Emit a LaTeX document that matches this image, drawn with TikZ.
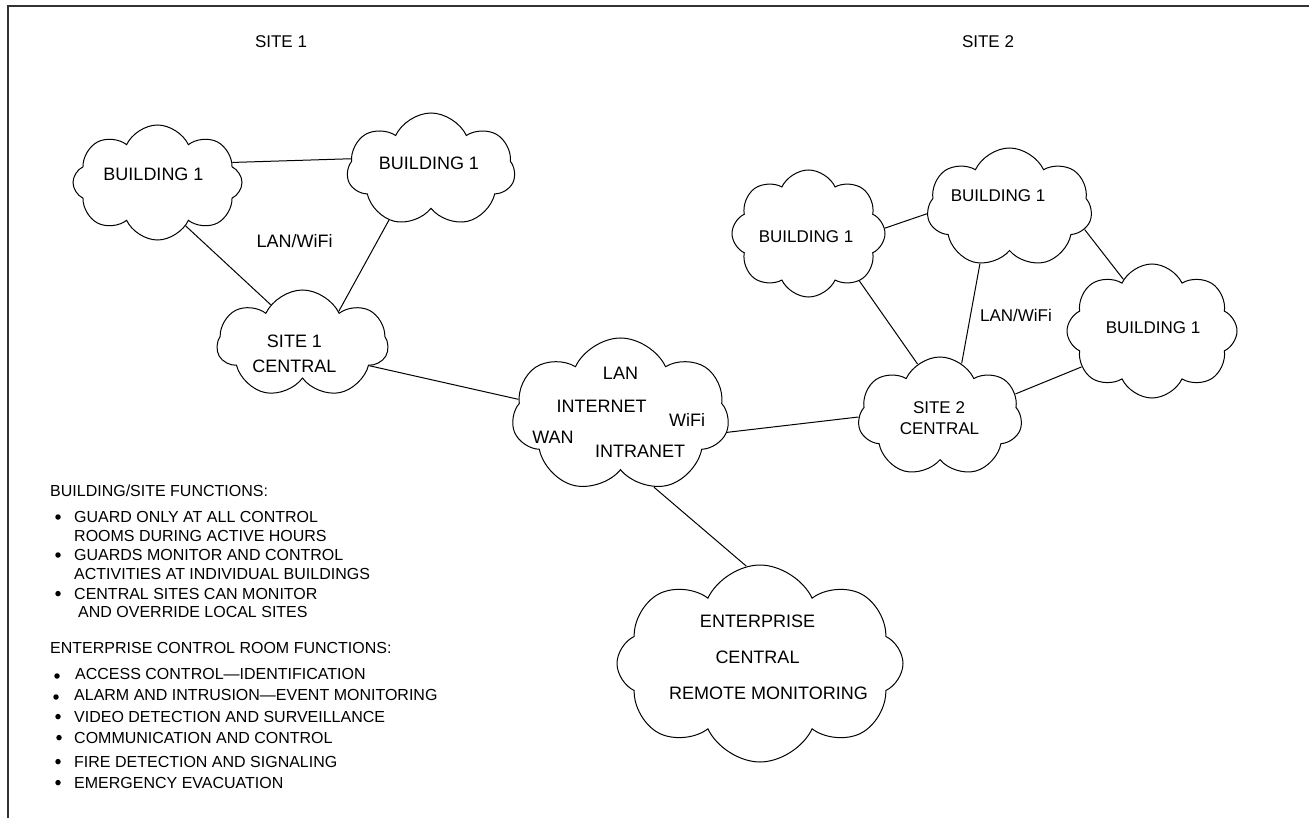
\documentclass[tikz,border=0pt]{standalone}
\usepackage{fontspec}
\setmainfont{Liberation Sans}
\usetikzlibrary{shapes.symbols}
\begin{document}
\begin{tikzpicture}[x=1pt,y=-1pt,
  cloudnode/.style={cloud, draw=black, line width=1pt, cloud ignores aspect, inner sep=0pt, cloud puff arc=130},
  link/.style={draw=black, line width=1pt},
  bigtext/.style={anchor=base, inner sep=0pt, font=\fontsize{18}{22}\selectfont},
  midtext/.style={anchor=base, inner sep=0pt, font=\fontsize{17}{20}\selectfont},
  listtext/.style={anchor=base west, inner sep=0pt, font=\fontsize{16}{19}\selectfont},
  dot/.style={circle, fill=black, inner sep=0pt, minimum size=5.5pt},
]
\useasboundingbox (0,0) rectangle (1309,818);
% page frame (top and left rules)
\draw[line width=2pt, draw=black!80] (8,818) -- (8,6) -- (1309,6);

% site titles
\node[midtext] (site1title) at (281,48) {SITE 1};
\node[midtext] (site2title) at (988,48) {SITE 2};

% ---- site 1 clouds ----
\node[cloudnode, cloud puffs=8, minimum width=169pt, minimum height=115pt] (s1b1) at (157.5,182.5) {};
\node[cloudnode, cloud puffs=7, minimum width=168pt, minimum height=114pt] (s1b2) at (431,170) {};
\node[cloudnode, cloud puffs=7, minimum width=171pt, minimum height=108pt] (s1c) at (302.5,344) {};

\node[bigtext] (t-s1b1) at (153.5,180.7) {BUILDING 1};
\node[bigtext] (t-s1b2) at (429,170) {BUILDING 1};
\node[bigtext] (t-s1c1) at (294.5,347) {SITE 1};
\node[bigtext] (t-s1c2) at (294.5,372) {CENTRAL};
\node[bigtext] (t-s1lan) at (294.5,248) {LAN/WiFi};

% ---- network cloud ----
\node[cloudnode, cloud puffs=7, minimum width=217pt, minimum height=155pt] (net) at (620.5,415.5) {};
\node[bigtext] (t-lan) at (620.5,379) {LAN};
\node[bigtext] (t-internet) at (601.5,412) {INTERNET};
\node[bigtext] (t-wifi) at (687,426) {WiFi};
\node[bigtext] (t-wan) at (553,443) {WAN};
\node[bigtext] (t-intranet) at (640,457) {INTRANET};

% ---- enterprise cloud ----
\node[cloudnode, cloud puffs=8, minimum width=286pt, minimum height=197pt] (ent) at (760,663.5) {};
\node[bigtext] (t-ent1) at (757.5,627) {ENTERPRISE};
\node[bigtext] (t-ent2) at (757.5,663) {CENTRAL};
\node[bigtext] (t-ent3) at (768.5,699) {REMOTE MONITORING};

% ---- site 2 clouds ----
\node[cloudnode, cloud puffs=8, minimum width=153pt, minimum height=127pt] (s2b1) at (808.5,233.5) {};
\node[cloudnode, cloud puffs=7, minimum width=165pt, minimum height=120pt] (s2b2) at (1009.5,208) {};
\node[cloudnode, cloud puffs=8, minimum width=170pt, minimum height=134pt] (s2b3) at (1152,331) {};
\node[cloudnode, cloud puffs=7, minimum width=164pt, minimum height=120pt] (s2c) at (940,417) {};

\node[midtext] (t-s2b1) at (806,243) {BUILDING 1};
\node[midtext] (t-s2b2) at (998,202) {BUILDING 1};
\node[midtext] (t-s2b3) at (1153,334) {BUILDING 1};
\node[midtext] (t-s2c1) at (939,413) {SITE 2};
\node[midtext] (t-s2c2) at (939.5,434) {CENTRAL};
\node[midtext] (t-s2lan) at (1016,322) {LAN/WiFi};

% ---- links ----
\draw[link] (s1b1.15.5) -- (s1b2.172.4);
\draw[link] (s1b1.-57.4) -- (s1c.129.5);
\draw[link] (s1b2.230.9) -- (s1c.42.4);
\draw[link] (s1c.-18.3) -- (net.171.9);
\draw[link] (net.-9.9) -- (s2c.180);
\draw[link] (net.-65.2) -- (ent.98.2);
\draw[link] (s2b1.4.9) -- (s2b2.184.9);
\draw[link] (s2b1.-43) -- (s2c.113);
\draw[link] (s2b2.242.3) -- (s2c.68);
\draw[link] (s2b2.-16.9) -- (s2b3.119.5);
\draw[link] (s2b3.207.1) -- (s2c.17.4);

% ---- function lists ----
\node[listtext] (h1) at (50,496) {BUILDING/SITE FUNCTIONS:};
\node[dot] (d1) at (58,517) {};
\node[listtext] (l1a) at (74,522.7) {GUARD ONLY AT ALL CONTROL};
\node[listtext] (l1b) at (74,541.7) {ROOMS DURING ACTIVE HOURS};
\node[dot] (d2) at (58,555) {};
\node[listtext] (l2a) at (74,560.7) {GUARDS MONITOR AND CONTROL};
\node[listtext] (l2b) at (74,579.3) {ACTIVITIES AT INDIVIDUAL BUILDINGS};
\node[dot] (d3) at (58,593.6) {};
\node[listtext] (l3a) at (74,599.3) {CENTRAL SITES CAN MONITOR};
\node[listtext] (l3b) at (78,617.3) {AND OVERRIDE LOCAL SITES};

\node[listtext] (h2) at (50,653.3) {ENTERPRISE CONTROL ROOM FUNCTIONS:};
\node[dot] (e1) at (57,676) {};
\node[listtext] (m1) at (75,679.3) {ACCESS CONTROL—IDENTIFICATION};
\node[dot] (e2) at (56,697) {};
\node[listtext] (m2) at (74,700.7) {ALARM AND INTRUSION—EVENT MONITORING};
\node[dot] (e3) at (58,716.6) {};
\node[listtext] (m3) at (74,722.3) {VIDEO DETECTION AND SURVEILLANCE};
\node[dot] (e4) at (59,737.6) {};
\node[listtext] (m4) at (74,743.3) {COMMUNICATION AND CONTROL};
\node[dot] (e5) at (58,761.6) {};
\node[listtext] (m5) at (74,767.3) {FIRE DETECTION AND SIGNALING};
\node[dot] (e6) at (58,782.6) {};
\node[listtext] (m6) at (74,788.3) {EMERGENCY EVACUATION};
\end{tikzpicture}
\end{document}
